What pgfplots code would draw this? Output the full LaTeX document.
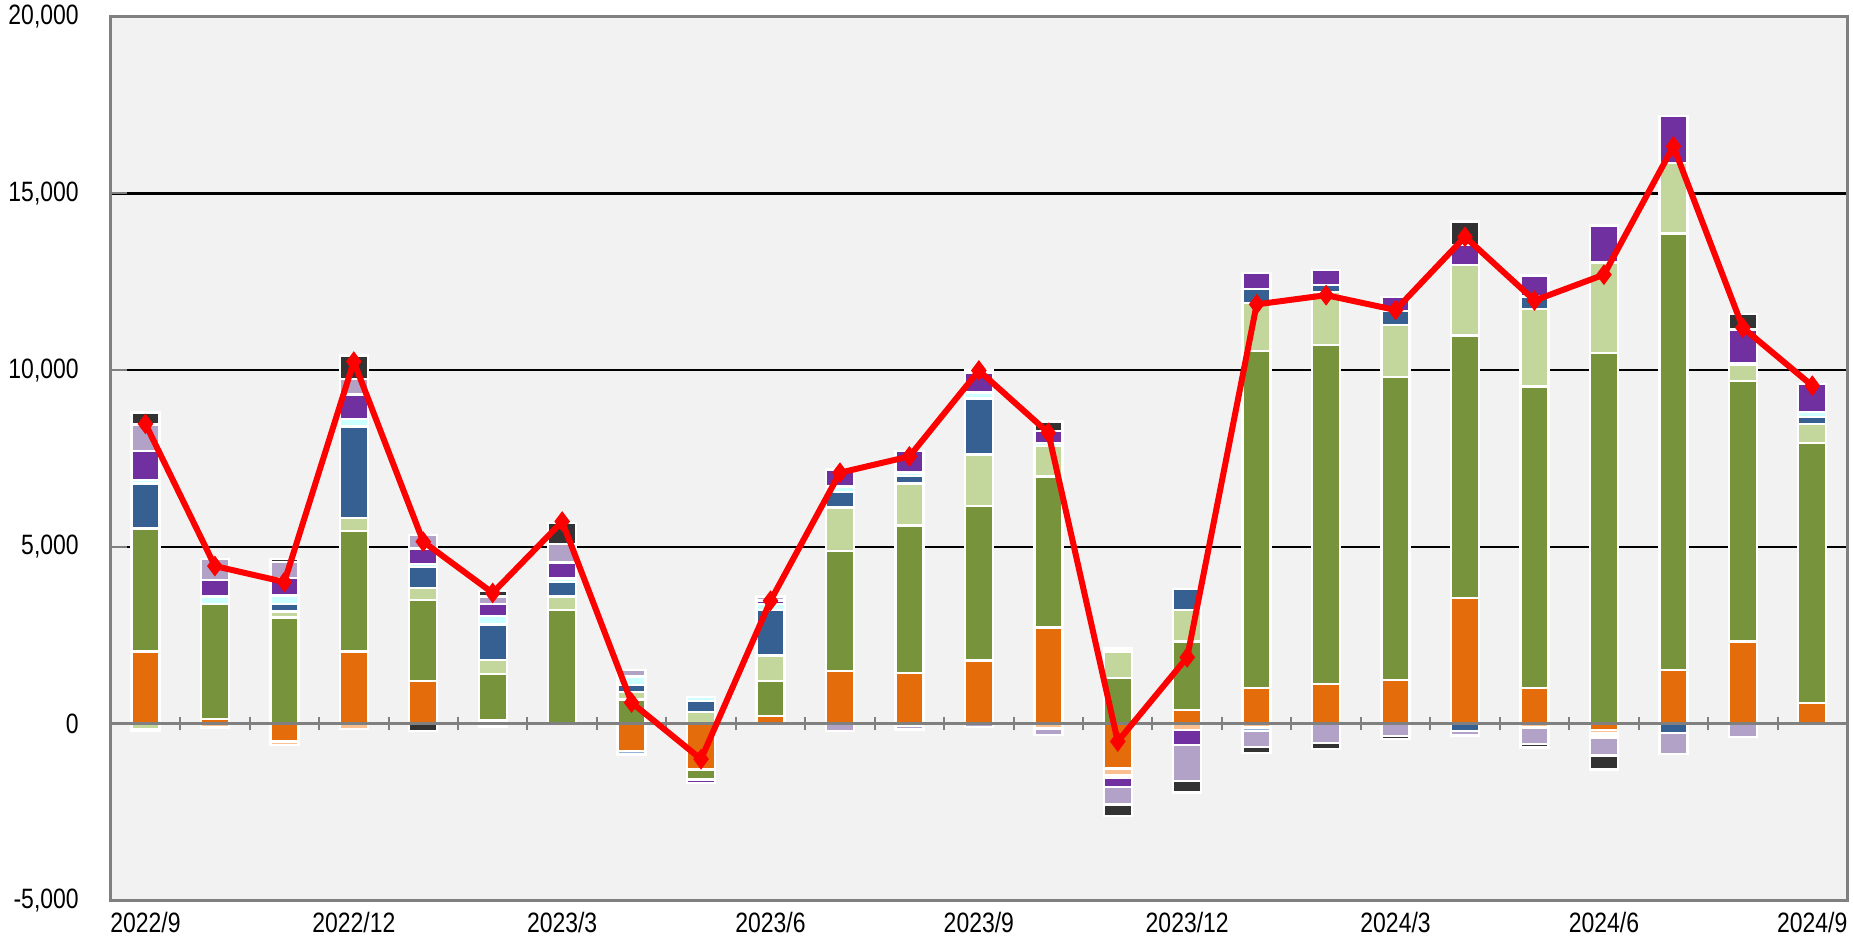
\documentclass[border=0pt]{standalone}
\usepackage{pgfplots}
\pgfplotsset{compat=1.18}
\usepackage{pgfplotstable}
\usepackage{fontspec}
\setmainfont{Liberation Sans}[FakeStretch=0.82]

\definecolor{cO}{HTML}{E46C0A}
\definecolor{cPe}{HTML}{FAC090}
\definecolor{cG}{HTML}{77933C}
\definecolor{cLG}{HTML}{C3D69B}
\definecolor{cB}{HTML}{376092}
\definecolor{cLB}{HTML}{95B3D7}
\definecolor{cLC}{HTML}{CCFFFF}
\definecolor{cPu}{HTML}{7030A0}
\definecolor{cLa}{HTML}{B3A2C7}
\definecolor{cD}{HTML}{333333}
\definecolor{bgc}{HTML}{F2F2F2}
\definecolor{axg}{HTML}{808080}

% positive parts
\pgfplotstableread{
x o pe g lg b lb lc pu la d
0 2050 0 3470 0 1280 0 100 820 740 340
1 130 0 3250 0 0 0 220 460 605 0
2 0 0 3010 160 220 0 240 490 450 90
3 2040 0 3420 355 2590 0 210 700 430 670
4 1210 0 2290 340 590 0 90 435 380 0
5 90 0 1315 395 1010 0 240 330 220 160
6 0 0 3210 395 410 0 90 460 525 590
7 0 0 685 210 210 0 235 0 185 0
8 0 0 0 340 300 0 110 0 0 0
9 225 0 985 725 1290 0 155 105 120 0
10 1500 0 3390 1225 445 0 145 485 0 0
11 1435 0 4170 1185 210 0 105 605 0 0
12 1790 0 4365 1460 1580 0 170 550 0 80
13 2720 0 4275 855 0 0 90 340 0 265
14 0 0 1300 750 0 0 80 0 0 0
15 395 0 1935 895 580 0 0 0 0 0
16 1015 0 9520 1370 395 0 0 445 0 0
17 1130 0 9575 1500 200 0 0 435 0 0
18 1235 0 8575 1460 395 0 0 395 0 0
19 3550 0 7430 1985 0 0 0 580 0 660
20 1015 0 8520 2195 355 0 0 590 0 0
21 0 0 10480 2565 0 0 0 1050 0 0
22 1525 0 12335 2000 0 0 0 1330 0 0
23 2330 0 7365 460 0 0 50 950 0 435
24 580 0 7365 525 210 0 130 790 0 0
}\pos

% negative parts
\pgfplotstableread{
x o pe g lg b lb lc pu la d
0 0 0 0 -145 0 -60 0 0 0 0
1 0 -105 0 0 0 0 0 0 0 0
2 -500 -100 0 0 0 0 0 0 0 0
3 0 -145 0 0 0 0 0 0 0 0
4 0 0 0 0 0 0 0 0 0 -200
5 0 -80 0 0 0 0 0 0 0 0
6 0 0 0 0 0 0 0 0 0 0
7 -765 0 0 0 0 -100 0 0 0 0
8 -1290 0 -290 0 0 0 0 -100 0 0
9 0 0 0 0 0 0 0 0 0 0
10 0 0 0 0 0 0 0 0 -210 0
11 0 -70 0 0 0 0 0 0 -90 0
12 0 0 0 0 0 0 0 0 -90 0
13 0 -130 0 0 0 0 0 0 -180 0
14 -1260 -185 0 0 -50 -40 0 -250 -500 -330
15 0 -170 0 0 0 0 0 -435 -1010 -330
16 0 -100 0 0 0 -100 0 0 -450 -170
17 0 0 0 0 0 0 0 0 -550 -160
18 0 0 0 0 0 0 0 0 -340 -90
19 0 0 0 0 -210 0 0 0 -120 0
20 0 -100 0 0 0 0 0 0 -475 -90
21 -170 -90 0 0 -70 -60 0 0 -510 -395
22 0 0 0 0 -265 0 0 0 -590 0
23 0 0 0 0 0 0 0 0 -370 0
24 0 0 0 0 0 0 0 0 0 0
}\neg

% total line
\pgfplotstableread{
x y
0 8480
1 4460
2 4010
3 10240
4 5150
5 3700
6 5720
7 600
8 -1000
9 3480
10 7100
11 7560
12 9990
13 8230
14 -500
15 1880
16 11860
17 12120
18 11700
19 13770
20 11970
21 12700
22 16330
23 11200
24 9560
}\tot

\pgfplotsset{
  base/.style={width=868pt, height=442pt, scale only axis,
    xmin=-0.5, xmax=24.5, ymin=-5000, ymax=20000,
    at={(0pt,0pt)}, anchor=south west},
  bars/.style={ybar stacked, bar width=14pt},
  seg/.style={fill=#1, draw=white, line width=1.2pt},
}

\begin{document}
\begin{tikzpicture}
\useasboundingbox (-55.35pt,-19.7pt) rectangle (871pt,450.25pt);

\begin{axis}[base, bars,
  axis background/.style={fill=bgc},
  axis line style={axg, line width=1.5pt},
  ytick={-5000,0,5000,10000,15000,20000},
  ymajorgrids, grid style={black, line width=1.2pt},
  ytick pos=left, tick align=inside,
  ytick style={axg, line width=1pt}, major tick length=8pt,
  xtick={0,3,...,24},
  xticklabels={2022/9,2022/12,2023/3,2023/6,2023/9,2023/12,2024/3,2024/6,2024/9},
  xtick style={draw=none},
  scaled y ticks=false,
  /pgf/number format/assume math mode=true,
  /pgf/number format/1000 sep={,},
  ticklabel style={font=\fontsize{14}{16}\selectfont},
  yticklabel style={anchor=east, inner sep=0pt, xshift=-15.8pt},
  xticklabel style={anchor=north, inner sep=0pt, yshift=-5.7pt},
]
\addplot[seg=cO] table[x=x,y=o] {\pos};
\addplot[seg=cPe] table[x=x,y=pe] {\pos};
\addplot[seg=cG] table[x=x,y=g] {\pos};
\addplot[seg=cLG] table[x=x,y=lg] {\pos};
\addplot[seg=cB] table[x=x,y=b] {\pos};
\addplot[seg=cLB] table[x=x,y=lb] {\pos};
\addplot[seg=cLC] table[x=x,y=lc] {\pos};
\addplot[seg=cPu] table[x=x,y=pu] {\pos};
\addplot[seg=cLa] table[x=x,y=la] {\pos};
\addplot[seg=cD] table[x=x,y=d] {\pos};
\end{axis}

\begin{axis}[base, bars, hide axis]
\addplot[seg=cO] table[x=x,y=o] {\neg};
\addplot[seg=cPe] table[x=x,y=pe] {\neg};
\addplot[seg=cG] table[x=x,y=g] {\neg};
\addplot[seg=cLG] table[x=x,y=lg] {\neg};
\addplot[seg=cB] table[x=x,y=b] {\neg};
\addplot[seg=cLB] table[x=x,y=lb] {\neg};
\addplot[seg=cLC] table[x=x,y=lc] {\neg};
\addplot[seg=cPu] table[x=x,y=pu] {\neg};
\addplot[seg=cLa] table[x=x,y=la] {\neg};
\addplot[seg=cD] table[x=x,y=d] {\neg};
\end{axis}

\begin{axis}[base,
  axis x line=middle, axis y line=none,
  x axis line style={-, axg, line width=1.5pt},
  xtick={0.5,1.5,...,23.5}, xticklabels={},
  tick align=center, major tick length=6.5pt,
  xtick style={axg, line width=1pt},
]
\addplot[red, line width=3pt, mark=diamond*, mark size=4.8pt,
  mark options={solid, fill=red, line width=0.5pt}] table[x=x,y=y] {\tot};
\end{axis}
\end{tikzpicture}
\end{document}
